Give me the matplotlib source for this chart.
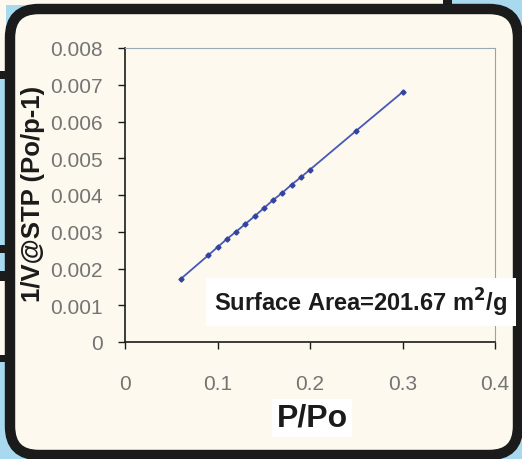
import matplotlib.pyplot as plt
from matplotlib.patches import FancyBboxPatch, Rectangle

# BET plot data
p_po = [0.06, 0.09, 0.10, 0.11, 0.12, 0.13, 0.14, 0.15, 0.16, 0.17, 0.18, 0.19, 0.20, 0.25, 0.30]
inv_v = [0.00171, 0.00236, 0.00258, 0.00280, 0.00300, 0.00321, 0.00342, 0.00364,
         0.00386, 0.00406, 0.00428, 0.00448, 0.00469, 0.00575, 0.00680]
x_ticks = [0, 0.1, 0.2, 0.3, 0.4]
x_labels = ["0", "0.1", "0.2", "0.3", "0.4"]
y_ticks = [0, 0.001, 0.002, 0.003, 0.004, 0.005, 0.006, 0.007, 0.008]
y_labels = ["0", "0.001", "0.002", "0.003", "0.004", "0.005", "0.006", "0.007", "0.008"]

W, H = 522, 460
cream = "#fdf9ee"
blue_bg = "#a9d9ef"
dark = "#1b1b1b"

plt.rcParams['font.family'] = ['Liberation Sans', 'DejaVu Sans']

fig = plt.figure(figsize=(W / 100, H / 100), dpi=100)
fig.patch.set_facecolor(blue_bg)


def fx(x):
    return x / W


def fy(y):
    return 1 - y / H


# decorative background pieces (from the page behind the card)
def rect(x0, y0, x1, y1, color):
    fig.patches.append(Rectangle((fx(x0), fy(y1)), fx(x1 - x0), (y1 - y0) / H,
                                 transform=fig.transFigure, facecolor=color,
                                 edgecolor="none", zorder=0.2))


rect(0, 0, 450, 6, cream)
rect(443, 0, 452, 6, dark)
rect(0, 0, 6, 72, cream)
rect(0, 72, 6, 80, dark)
rect(0, 246, 6, 254, dark)
rect(0, 272, 6, 282, dark)
rect(0, 282, 6, 356, cream)
rect(0, 356, 6, 363, dark)

# rounded card
card = FancyBboxPatch((fx(10), fy(456)), fx(518 - 10), (456 - 10) / H,
                      boxstyle="round,pad=0,rounding_size=0.055",
                      transform=fig.transFigure, facecolor=cream,
                      edgecolor=dark, linewidth=7.5, zorder=0.5,
                      mutation_aspect=W / H)
fig.patches.append(card)

ax = fig.add_axes([fx(125), fy(343), fx(495 - 125), (343 - 49) / H])
ax.set_zorder(2)
ax.patch.set_visible(False)

ax.plot(p_po, inv_v, color="#4658b8", linewidth=1.3, marker="D",
        markersize=2.6, markerfacecolor="#34449e", markeredgecolor="#34449e")

ax.set_xlim(0, 0.4)
ax.set_ylim(0, 0.008)
ax.set_xticks(x_ticks)
ax.set_xticklabels(x_labels)
ax.set_yticks(y_ticks)
ax.set_yticklabels(y_labels)

ax.tick_params(axis="y", direction="out", length=5, width=1, color=dark,
               pad=11, labelsize=15, labelcolor="#747474")
ax.tick_params(axis="x", direction="out", length=5, width=1, color=dark,
               pad=18, labelsize=15, labelcolor="#747474")

ax.spines["left"].set_color(dark)
ax.spines["bottom"].set_color(dark)
ax.spines["left"].set_linewidth(1.2)
ax.spines["bottom"].set_linewidth(1.2)
ax.spines["right"].set_color("#a0a0a0")
ax.spines["top"].set_color("#9aaab0")
ax.spines["top"].set_linestyle((0, (3, 1)))
for s in ax.spines.values():
    s.set_zorder(3)

fig.text(fx(33), fy(194), "1/V@STP (Po/p-1)", rotation=90, ha="center",
         va="center", fontsize=18.5, fontweight="bold", color=dark, zorder=5)

fig.text(fx(312), fy(419), "P/Po", ha="center", va="center", fontsize=23,
         fontweight="bold", color=dark, zorder=5,
         bbox=dict(facecolor="white", edgecolor="none", pad=3))

fig.text(fx(361), fy(303), r"Surface Area=201.67 m$^{\mathbf{2}}$/g", ha="center",
         va="center", fontsize=17, fontweight="bold", color=dark, zorder=5,
         bbox=dict(facecolor="white", edgecolor="none", pad=6))

fig.savefig("out.png", dpi=100, facecolor=fig.get_facecolor())
